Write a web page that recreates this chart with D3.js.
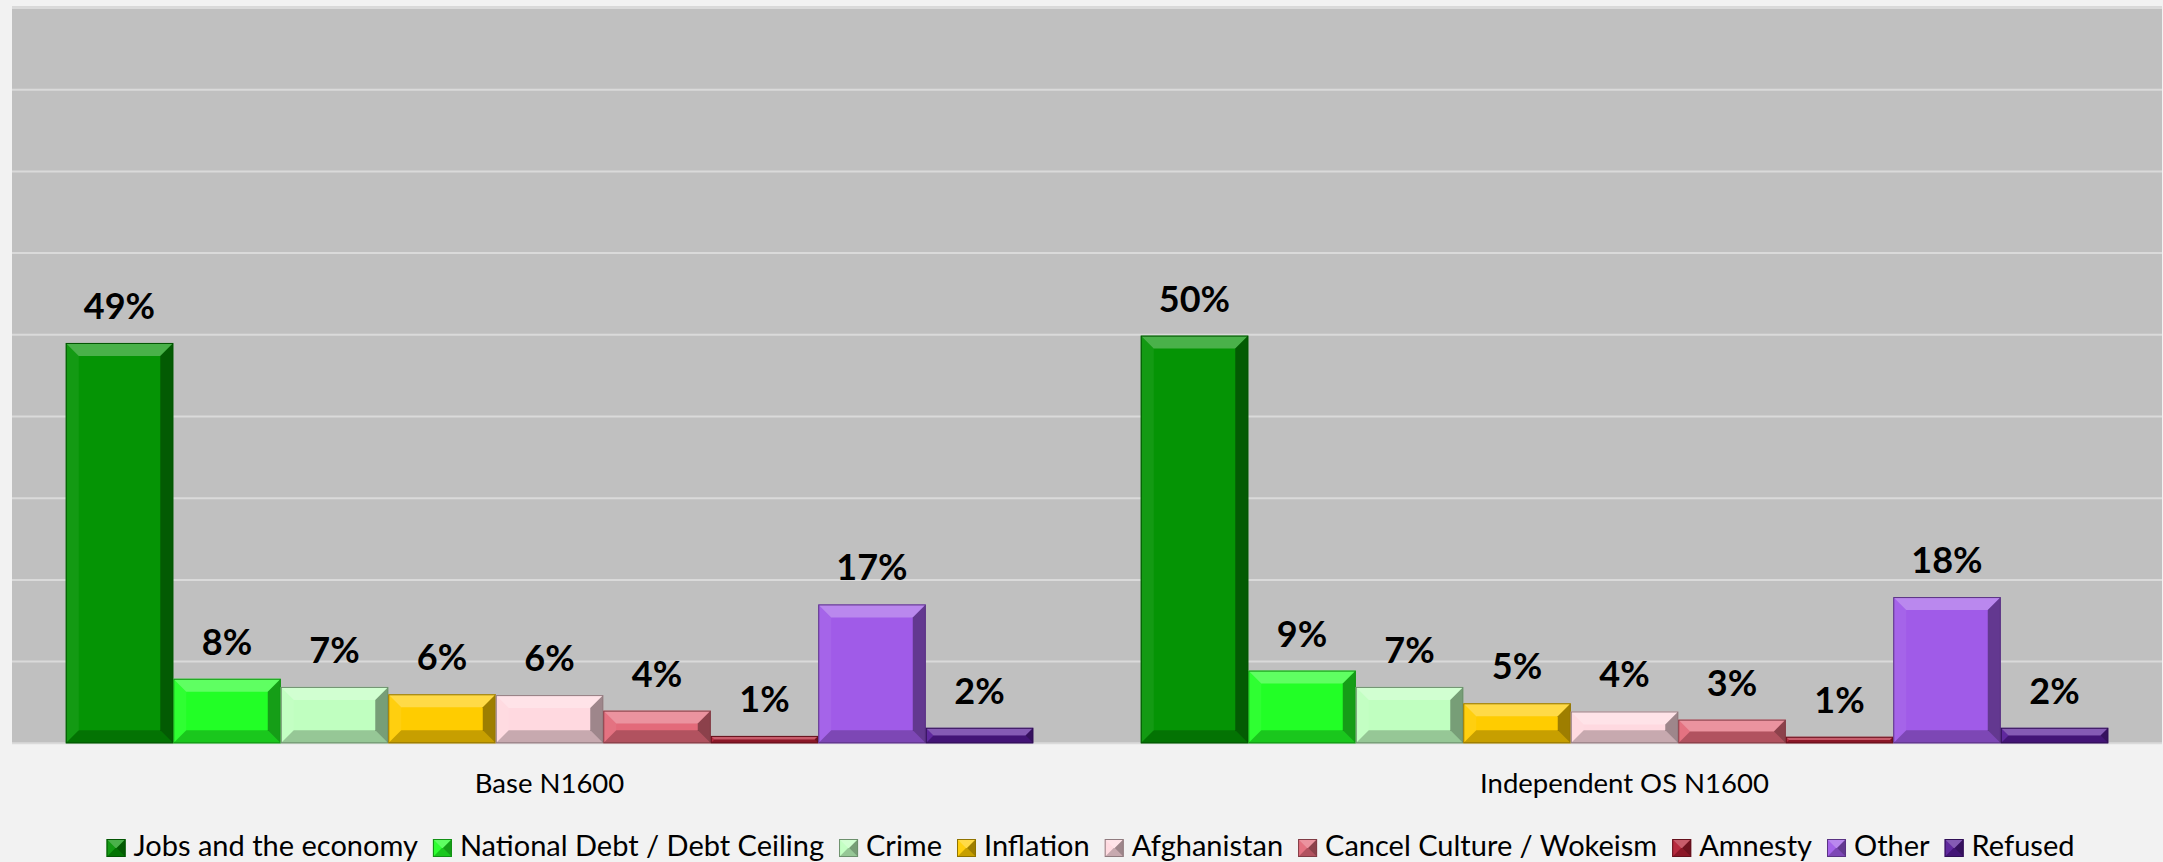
<!DOCTYPE html>
<html>
<head>
<meta charset="utf-8">
<script src="https://cdn.jsdelivr.net/npm/d3@7/dist/d3.min.js"></script>
<style>
  html, body { margin: 0; padding: 0; background: #F2F2F2; }
  svg { display: block; }
</style>
</head>
<body>
<svg id="chart" width="2163" height="862"></svg>
<script>
// ---- data ----
const categories = ["Base N1600", "Independent OS N1600"];
const seriesNames = ["Jobs and the economy", "National Debt / Debt Ceiling", "Crime", "Inflation",
  "Afghanistan", "Cancel Culture / Wokeism", "Amnesty", "Other", "Refused"];
const baseValues = [0.490, 0.079, 0.069, 0.060, 0.059, 0.040, 0.009, 0.170, 0.019];
const independentValues = [0.499, 0.089, 0.069, 0.049, 0.039, 0.029, 0.008, 0.179, 0.019];
const seriesColors = ["#059405", "#22FF26", "#C0FFC0", "#FFCC00", "#FFD9E0", "#E36A7A", "#B31E33", "#A05BE8", "#571C98"];
const yTicks = [0, 0.1, 0.2, 0.3, 0.4, 0.5, 0.6, 0.7, 0.8, 0.9];

const valuesByCategory = [baseValues, independentValues];

const svg = d3.select("#chart");
const plot = { left: 12, right: 2162, top: 8, bottom: 743.3 };

const x0 = d3.scaleBand().domain(categories).range([plot.left, plot.right])
  .paddingInner(0.1).paddingOuter(0.05);
const x1 = d3.scaleBand().domain(seriesNames).range([0, x0.bandwidth()]).padding(0);
const y = d3.scaleLinear().domain([0, 0.9]).range([plot.bottom, plot.top]);
const color = d3.scaleOrdinal().domain(seriesNames).range(seriesColors);

// plot area background
svg.append("rect")
  .attr("x", plot.left).attr("y", plot.top - 1.5)
  .attr("width", plot.right - plot.left).attr("height", plot.bottom - plot.top + 1.5)
  .attr("fill", "#C0C0C0");

// gridlines
svg.append("g").selectAll("line").data(yTicks).join("line")
  .attr("x1", plot.left).attr("x2", plot.right)
  .attr("y1", d => y(d)).attr("y2", d => y(d))
  .attr("stroke", "#DADADA").attr("stroke-width", 2);

// bevel drawing helper
function bevelBar(g, x, yy, w, h, fill) {
  const b = Math.min(13, w / 2, h / 2);
  const dark = d3.color(fill).darker(1.6);
  g.append("rect").attr("x", x).attr("y", yy).attr("width", w).attr("height", h).attr("fill", fill);
  const polys = [
    { pts: [[x, yy], [x + w, yy], [x + w - b, yy + b], [x + b, yy + b]], c: "#fff", o: 0.28 },
    { pts: [[x, yy], [x + b, yy + b], [x + b, yy + h - b], [x, yy + h]], c: "#fff", o: 0.06 },
    { pts: [[x + w, yy], [x + w, yy + h], [x + w - b, yy + h - b], [x + w - b, yy + b]], c: "#000", o: 0.38 },
    { pts: [[x, yy + h], [x + w, yy + h], [x + w - b, yy + h - b], [x + b, yy + h - b]], c: "#000", o: 0.22 }
  ];
  polys.forEach(p => g.append("polygon").attr("points", p.pts.map(q => q.join(",")).join(" "))
    .attr("fill", p.c).attr("fill-opacity", p.o));
  g.append("rect").attr("x", x + 0.5).attr("y", yy + 0.5).attr("width", Math.max(0, w - 1)).attr("height", Math.max(0, h - 1))
    .attr("fill", "none").attr("stroke", dark).attr("stroke-width", 1);
}

// bars
const fmt = d3.format(".0%");
categories.forEach((cat, ci) => {
  const g = svg.append("g");
  valuesByCategory[ci].forEach((v, si) => {
    const name = seriesNames[si];
    const bx = x0(cat) + x1(name);
    const by = y(v);
    const bh = y(0) - y(v);
    bevelBar(g, bx, by, x1.bandwidth(), bh, color(name));
    g.append("text")
      .attr("x", bx + x1.bandwidth() / 2)
      .attr("y", by - 24)
      .attr("text-anchor", "middle")
      .attr("font-family", "Lato, 'Open Sans', sans-serif")
      .attr("font-weight", "bold")
      .attr("font-size", 36)
      .attr("fill", "#000")
      .text(fmt(v));
  });
});

// category axis labels
svg.append("g").selectAll("text").data(categories).join("text")
  .attr("x", d => x0(d) + x0.bandwidth() / 2)
  .attr("y", 793)
  .attr("text-anchor", "middle")
  .attr("font-family", "Lato, 'Open Sans', sans-serif")
  .attr("font-size", 27.5)
  .attr("fill", "#000")
  .text(d => d);

// legend
const legend = svg.append("g");
let cx = 0;
seriesNames.forEach((name) => {
  const it = legend.append("g");
  bevelBar(it, 0, -17, 19, 18, color(name));
  const t = it.append("text").attr("x", 27).attr("y", 0)
    .attr("font-family", "Lato, 'Open Sans', sans-serif")
    .attr("font-size", 29).attr("fill", "#000").text(name);
  const tw = t.node().getComputedTextLength();
  it.attr("transform", `translate(${cx},856)`);
  cx += 27 + tw + 15;
});
const totalW = cx - 15;
legend.attr("transform", `translate(${1090.5 - totalW / 2},0)`);
</script>
</body>
</html>
